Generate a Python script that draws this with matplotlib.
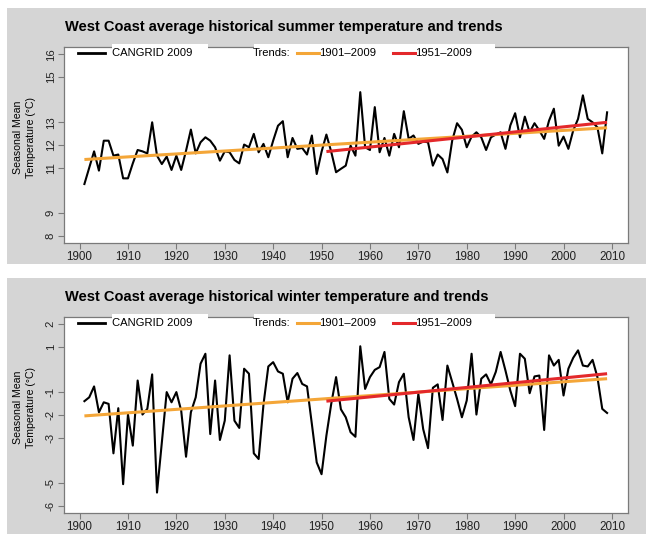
import matplotlib
matplotlib.use("Agg")
from matplotlib import pyplot as plt
from matplotlib.patches import Rectangle
import numpy as np

plt.rcParams['font.family'] = ['Liberation Sans', 'DejaVu Sans']

W, H = 646, 536
PANEL = '#d5d5d5'
FRAME = '#7a7a7a'
ORANGE = '#f4a638'
RED = '#e3282b'

years = list(range(1901, 2010))

# seasonal mean temperature, one value per year 1901-2009
summer = [
    10.28, 11.00, 11.72, 10.87, 12.19, 12.19, 11.53, 11.58, 10.53, 10.53,
    11.19, 11.78, 11.72, 11.63, 13.00, 11.53, 11.16, 11.49, 10.90, 11.53,
    10.90, 11.75, 12.68, 11.63, 12.12, 12.34, 12.19, 11.90, 11.31, 11.72,
    11.68, 11.34, 11.19, 12.02, 11.90, 12.49, 11.68, 12.05, 11.46, 12.19,
    12.85, 13.05, 11.46, 12.31, 11.83, 11.87, 11.58, 12.42, 10.72, 11.70,
    12.46, 11.70, 10.80, 10.95, 11.09, 11.97, 11.53, 14.33, 11.90, 11.78,
    13.67, 11.68, 12.31, 11.53, 12.49, 11.90, 13.49, 12.27, 12.42, 12.05,
    12.15, 12.12, 11.09, 11.58, 11.38, 10.79, 12.20, 12.96, 12.67, 11.90,
    12.37, 12.56, 12.34, 11.78, 12.34, 12.46, 12.56, 11.83, 12.86, 13.40,
    12.34, 13.25, 12.56, 12.96, 12.64, 12.27, 13.07, 13.60, 11.97, 12.37,
    11.83, 12.64, 13.15, 14.19, 13.15, 13.00, 12.78, 11.63, 13.44,
]

winter = [
    -1.39, -1.22, -0.74, -1.88, -1.44, -1.51, -3.69, -1.70, -5.05, -1.98,
    -3.35, -0.48, -1.98, -1.73, -0.21, -5.42, -3.21, -0.99, -1.44, -0.99,
    -1.81, -3.84, -1.88, -1.22, 0.26, 0.70, -2.84, -0.48, -3.10, -2.25,
    0.63, -2.25, -2.57, 0.04, -0.18, -3.69, -3.94, -1.54, 0.14, 0.33,
    -0.08, -0.18, -1.44, -0.40, -0.15, -0.63, -0.74, -2.40, -4.09, -4.61,
    -2.91, -1.51, -0.33, -1.75, -2.10, -2.76, -2.96, 1.03, -0.85, -0.33,
    -0.01, 0.11, 0.78, -1.29, -1.54, -0.55, -0.18, -2.10, -3.10, -1.07,
    -2.62, -3.46, -0.80, -0.65, -2.22, 0.18, -0.55, -1.29, -2.10, -1.36,
    0.70, -1.98, -0.40, -0.21, -0.65, -0.10, 0.78, -0.04, -0.92, -1.61,
    0.70, 0.48, -1.04, -0.30, -0.26, -2.66, 0.63, 0.18, 0.43, -1.14,
    0.04, 0.52, 0.85, 0.18, 0.14, 0.43, -0.33, -1.73, -1.91,
]

# linear trend end points
full_years = [1901, 2009]
recent_years = [1951, 2009]
summer_full = [11.36, 12.76]
summer_recent = [11.71, 13.00]
winter_full = [-2.04, -0.40]
winter_recent = [-1.39, -0.18]

summer_yticks = [8, 9, 11, 12, 13, 15, 16]
winter_yticks = [-6, -5, -3, -2, -1, 1, 2]
xticks = list(range(1900, 2011, 10))

summer_title = "West Coast average historical summer temperature and trends"
winter_title = "West Coast average historical winter temperature and trends"


def ax_frac(px):
    return (px - 63.5) / 564.5


def draw_panel(fig, top, values, full, recent, yticks, title):
    # gray backdrop
    fig.patches.append(Rectangle((7 / W, 1 - (top + 217) / H), (W - 7) / W, 256 / H,
                                 transform=fig.transFigure, facecolor=PANEL,
                                 edgecolor='none', zorder=-1))
    fig.text(65 / W, 1 - (top - 16) / H, title, fontsize=10.5, fontweight='bold',
             va='baseline', ha='left')
    fig.text(24.5 / W, 1 - (top + 90) / H, "Seasonal Mean\nTemperature (\u00b0C)",
             rotation=90, ha='center', va='center', multialignment='center',
             fontsize=7.6, linespacing=1.45)

    ax = fig.add_axes([63.5 / W, 1 - (top + 196) / H, 564.5 / W, 196 / H])
    ax.set_facecolor('white')
    ax.plot(years, values, color='black', lw=1.5, zorder=3, solid_joinstyle='round')
    ax.plot(full_years, full, color=ORANGE, lw=2.2, zorder=4, solid_capstyle='butt')
    ax.plot(recent_years, recent, color=RED, lw=2.2, zorder=5, solid_capstyle='butt')

    lo, hi = min(yticks), max(yticks)
    pad = 0.04 * (hi - lo)
    ax.set_ylim(lo - pad, hi + pad)
    ax.set_xlim(1901 - 0.04 * 108, 2009 + 0.04 * 108)
    ax.set_xticks(xticks)
    ax.set_yticks(yticks)
    ax.set_yticklabels([str(t) for t in yticks])
    for s in ax.spines.values():
        s.set_color(FRAME)
        s.set_linewidth(0.9)
    ax.tick_params(axis='both', direction='out', length=4, width=0.8, color=FRAME,
                   labelcolor='#222222')
    ax.tick_params(axis='x', labelsize=8.4, pad=1.5)
    ax.tick_params(axis='y', labelsize=8.2, pad=1.5, labelrotation=90)
    for lab in ax.get_yticklabels():
        lab.set_va('center')

    # legend row along the top edge
    ly = 1 - 5.7 / 196
    for x0, x1 in [(112, 208), (254, 495)]:
        ax.add_patch(Rectangle((ax_frac(x0), 0.93), ax_frac(x1) - ax_frac(x0), 0.085,
                               transform=ax.transAxes, facecolor='white',
                               edgecolor='none', clip_on=False, zorder=6))
    ax.plot([ax_frac(78), ax_frac(105)], [ly, ly], transform=ax.transAxes,
            color='black', lw=2, clip_on=False, zorder=7)
    ax.plot([ax_frac(297), ax_frac(319)], [ly, ly], transform=ax.transAxes,
            color=ORANGE, lw=2.2, clip_on=False, zorder=7)
    ax.plot([ax_frac(393), ax_frac(415)], [ly, ly], transform=ax.transAxes,
            color=RED, lw=2.2, clip_on=False, zorder=7)
    kw = dict(transform=ax.transAxes, fontsize=8.1, va='center', ha='left', zorder=8)
    ax.text(ax_frac(112), ly, "CANGRID 2009", **kw)
    ax.text(ax_frac(253), ly, "Trends:", **kw)
    ax.text(ax_frac(319), ly, "1901\u20132009", **kw)
    ax.text(ax_frac(415), ly, "1951\u20132009", **kw)
    return ax


fig = plt.figure(figsize=(W / 100, H / 100), dpi=100)
fig.patch.set_facecolor('white')
draw_panel(fig, 47, summer, summer_full, summer_recent, summer_yticks, summer_title)
draw_panel(fig, 317, winter, winter_full, winter_recent, winter_yticks, winter_title)
fig.savefig("out.png", dpi=100)
